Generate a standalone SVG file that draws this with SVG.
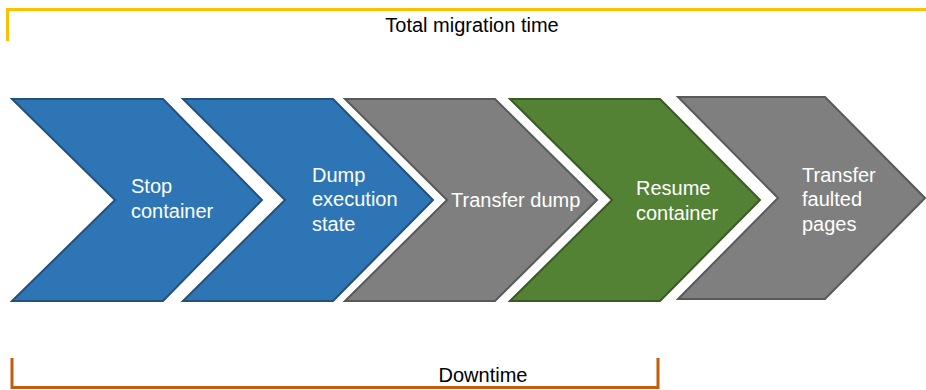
<svg xmlns="http://www.w3.org/2000/svg" width="926" height="390" viewBox="0 0 926 390">
  <style>
    .step { stroke-width: 2; stroke-linejoin: miter; }
    .blue { fill: #2E75B6; stroke: #24507C; }
    .gray { fill: #7F7F7F; stroke: #595959; }
    .green { fill: #548235; stroke: #3A5A24; }
    .lbl { font-family: "Liberation Sans", Arial, sans-serif; font-size: 20px; fill: #FFFFFF; }
    .cap { font-family: "Liberation Sans", Arial, sans-serif; font-size: 20px; fill: #000000; text-anchor: middle; }
    .bracket { fill: none; stroke-width: 3; }
  </style>
  <rect width="926" height="390" fill="#FFFFFF"/>

  <!-- span brackets -->
  <g id="connectors">
    <polyline class="bracket" stroke="#FFC000" points="7.5,41 7.5,9.5 926,9.5"/>
    <polyline class="bracket" stroke="#C55A11" stroke-width="2.5" points="12,358 12,387.5 658,387.5 658,358"/>
  </g>
  <text class="cap" x="472" y="32">Total migration time</text>
  <text class="cap" x="483" y="382">Downtime</text>

  <g id="stop">
    <polygon class="step blue" points="12,99 163,99 262,200 163,301 12,301 115,200"/>
    <text class="lbl" x="131" y="193">Stop</text>
    <text class="lbl" x="131" y="218">container</text>
  </g>
  <g id="dump">
    <polygon class="step blue" points="183,99 333,99 433,200 333,301 183,301 285,200"/>
    <text class="lbl" x="312" y="182">Dump</text>
    <text class="lbl" x="312" y="206">execution</text>
    <text class="lbl" x="312" y="231">state</text>
  </g>
  <g id="transfer-dump">
    <polygon class="step gray" points="345,99 495,99 597,200 495,301 345,301 447,200"/>
    <text class="lbl" x="451" y="207">Transfer dump</text>
  </g>
  <g id="resume">
    <polygon class="step green" points="510,99 660,99 760,200 660,301 510,301 612,200"/>
    <text class="lbl" x="636" y="195">Resume</text>
    <text class="lbl" x="636" y="220">container</text>
  </g>
  <g id="transfer-pages">
    <polygon class="step gray" points="678,97 825,97 925,198 825,299 678,299 778,198"/>
    <text class="lbl" x="802" y="182">Transfer</text>
    <text class="lbl" x="802" y="206">faulted</text>
    <text class="lbl" x="802" y="231">pages</text>
  </g>
</svg>
